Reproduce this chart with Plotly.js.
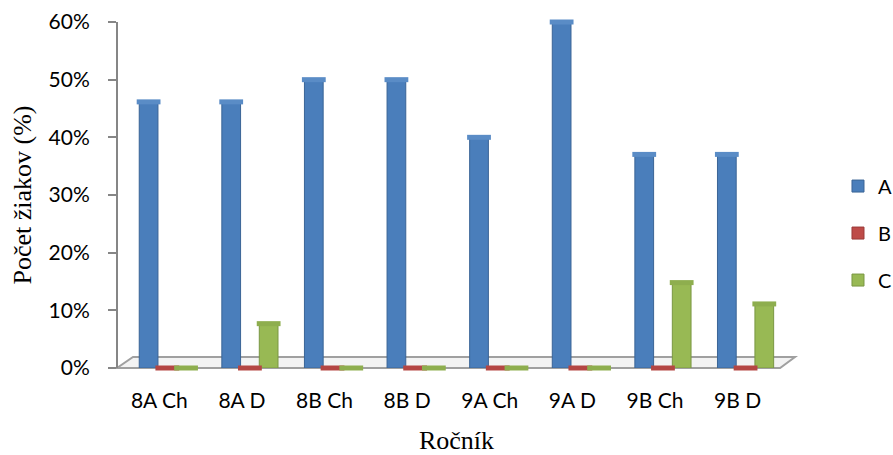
<!DOCTYPE html>
<html>
<head>
<meta charset="utf-8">
<script src="https://cdn.plot.ly/plotly-3.0.1.min.js"></script>
<style>html,body{margin:0;padding:0;background:#fff;}#chart{width:893px;height:455px;}</style>
</head>
<body>
<div id="chart"></div>
<script>
var categories = ["8A Ch", "8A D", "8B Ch", "8B D", "9A Ch", "9A D", "9B Ch", "9B D"];
var seriesNames = ["A", "B", "C"];
var valuesA = [0.4615, 0.4615, 0.50, 0.50, 0.40, 0.60, 0.3704, 0.3704];
var valuesB = [0, 0, 0, 0, 0, 0, 0, 0];
var valuesC = [0, 0.0769, 0, 0, 0, 0, 0.1481, 0.1111];
var yTickVals = [0, 0.1, 0.2, 0.3, 0.4, 0.5, 0.6];
var yTickText = ["0%", "10%", "20%", "30%", "40%", "50%", "60%"];
var xTitle = "Ročník";
var yTitle = "Počet žiakov (%)";

var colors = ["#4A7EBB", "#BE4B48", "#98B954"];
var edges = ["#3A6496", "#9A3A38", "#7A9743"];
var caps = ["#5A8CC6", "#B44643", "#8EAE4E"];
var allVals = [valuesA, valuesB, valuesC];

var traces = [];
for (var i = 0; i < 3; i++) {
  traces.push({
    type: "bar", name: seriesNames[i], x: categories, y: allVals[i],
    offsetgroup: "g" + i, legendgroup: "g" + i,
    marker: {color: colors[i], line: {color: edges[i], width: 1}},
    hoverinfo: "none"
  });
}
for (var j = 0; j < 3; j++) {
  traces.push({
    type: "scatter", mode: "markers", x: categories, y: allVals[j],
    offsetgroup: "g" + j, showlegend: false, hoverinfo: "none", cliponaxis: false,
    marker: {symbol: "line-ew", size: 17, line: {color: caps[j], width: 5}}
  });
}

var fontSans = "Lato, 'Open Sans', sans-serif";
var fontSerif = "'Liberation Serif', 'DejaVu Serif', serif";

var layout = {
  width: 893, height: 455,
  margin: {l: 117, r: 98, t: 22, b: 87, autoexpand: false},
  paper_bgcolor: "#ffffff", plot_bgcolor: "rgba(0,0,0,0)",
  barmode: "group", bargap: 0.32, bargroupgap: 0,
  scattermode: "group", scattergap: 0.32,
  showlegend: true,
  legend: {x: 1.0634, y: 0.39, xanchor: "left", yanchor: "middle",
           traceorder: "grouped", tracegroupgap: 18,
           font: {family: fontSans, size: 20, color: "#000"}},
  xaxis: {domain: [0.0133, 0.988], type: "category", showline: false, showgrid: false,
          zeroline: false, ticks: "", ticklabelshift: -8, ticklabelstandoff: 18,
          automargin: false,
          tickfont: {family: fontSans, size: 21, color: "#000"},
          title: {text: xTitle, font: {family: fontSerif, size: 26, color: "#000"}, standoff: 19}},
  yaxis: {range: [0, 0.6], anchor: "free", position: 0, showgrid: false, zeroline: false,
          showline: true, linecolor: "#868686", linewidth: 2, automargin: false,
          ticks: "outside", ticklen: 8, tickcolor: "#868686", tickwidth: 2,
          tickvals: yTickVals, ticktext: yTickText, ticklabelstandoff: 14,
          tickfont: {family: fontSans, size: 21, color: "#000"},
          title: {text: yTitle, font: {family: fontSerif, size: 26, color: "#000"}, standoff: 8}},
  shapes: [
    {type: "path", xref: "paper", yref: "paper",
     path: "M 0 0 L 0.978 0 L 1 0.032 L 0.0236 0.032 Z",
     fillcolor: "rgba(235,235,235,0.6)", line: {color: "#A0A0A0", width: 2}, layer: "below"}
  ]
};

Plotly.newPlot("chart", traces, layout, {displayModeBar: false, staticPlot: true});
</script>
</body>
</html>
